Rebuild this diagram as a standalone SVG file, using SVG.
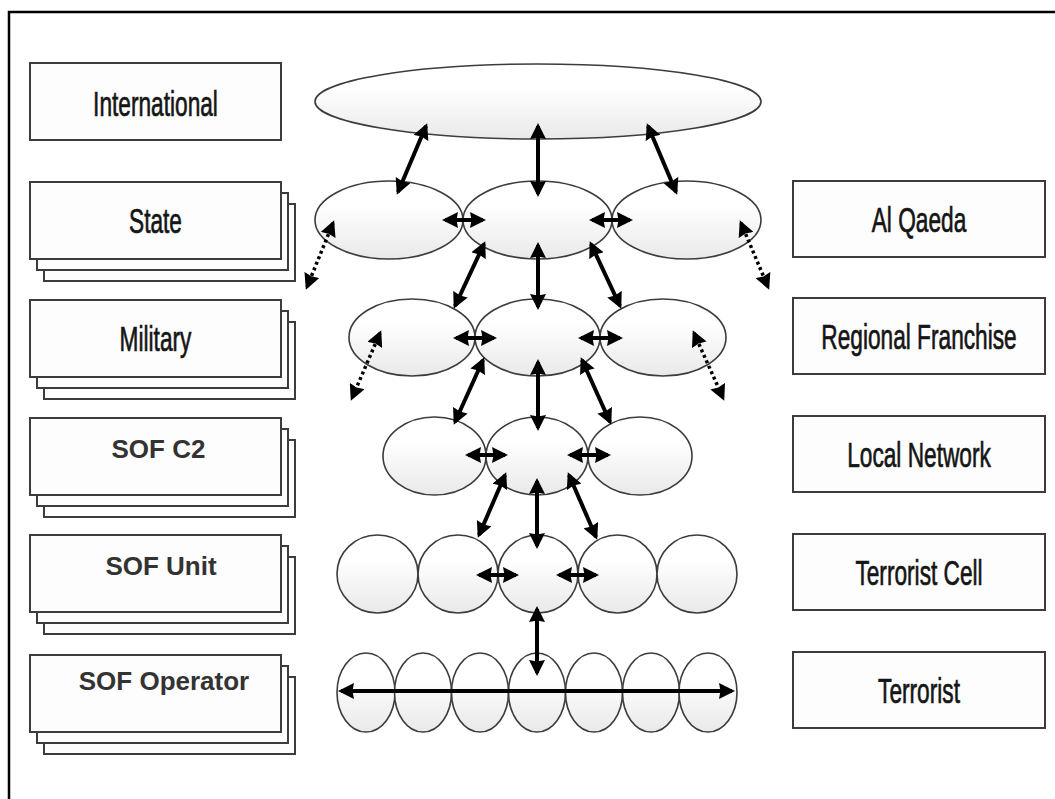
<svg xmlns="http://www.w3.org/2000/svg" width="1055" height="799" viewBox="0 0 1055 799">
  <defs>
    <linearGradient id="eg" x1="0" y1="0" x2="0" y2="1">
      <stop offset="0.3" stop-color="#ffffff"/>
      <stop offset="1" stop-color="#e9e9e9"/>
    </linearGradient>
    <marker id="ah" viewBox="0 0 16 16" markerWidth="16" markerHeight="16" refX="13" refY="8" orient="auto-start-reverse" markerUnits="userSpaceOnUse">
      <path d="M0,0 L16,8 L0,16 L1.5,8 z" fill="#000"/>
    </marker>
    <style>
      .box{fill:#fdfdfd;stroke:#3c3c3c;stroke-width:2}
      .ell{fill:url(#eg);stroke:#3c3c3c;stroke-width:1.6}
      .lbl{font-family:"Liberation Sans",Arial,sans-serif;font-size:36px;fill:#151515;stroke:#151515;stroke-width:0.7;text-anchor:middle}
      .sof{font-family:"Liberation Sans",Arial,sans-serif;font-size:26px;font-weight:bold;fill:#333;text-anchor:middle}
      .ar{stroke:#000;stroke-width:4;fill:none;marker-start:url(#ah);marker-end:url(#ah)}
      .dot{stroke:#000;stroke-width:3.5;fill:none;stroke-dasharray:3 3;marker-start:url(#ah);marker-end:url(#ah)}
    </style>
  </defs>
  <rect x="0" y="0" width="1055" height="799" fill="#fff"/>
  <rect x="9" y="12" width="1200" height="900" fill="none" stroke="#000" stroke-width="2.5"/>

  <!-- left labels -->
  <g id="international">
    <rect class="box" x="30" y="63" width="251" height="77"/>
    <text class="lbl" transform="translate(155.5,116) scale(0.63,1)">International</text>
  </g>
  <g id="state">
    <rect class="box" x="44" y="204" width="251" height="77"/>
    <rect class="box" x="37" y="193" width="251" height="77"/>
    <rect class="box" x="30" y="182" width="251" height="77"/>
    <text class="lbl" transform="translate(155.5,233) scale(0.63,1)">State</text>
  </g>
  <g id="military">
    <rect class="box" x="44" y="322" width="251" height="77"/>
    <rect class="box" x="37" y="311" width="251" height="77"/>
    <rect class="box" x="30" y="300" width="251" height="77"/>
    <text class="lbl" transform="translate(155.5,351) scale(0.63,1)">Military</text>
  </g>
  <g id="sof-c2">
    <rect class="box" x="44" y="440" width="251" height="77"/>
    <rect class="box" x="37" y="429" width="251" height="77"/>
    <rect class="box" x="30" y="418" width="251" height="77"/>
    <text class="sof" x="158.5" y="458">SOF C2</text>
  </g>
  <g id="sof-unit">
    <rect class="box" x="44" y="557" width="251" height="77"/>
    <rect class="box" x="37" y="546" width="251" height="77"/>
    <rect class="box" x="30" y="535" width="251" height="77"/>
    <text class="sof" x="161" y="575">SOF Unit</text>
  </g>
  <g id="sof-operator">
    <rect class="box" x="44" y="677" width="251" height="77"/>
    <rect class="box" x="37" y="666" width="251" height="77"/>
    <rect class="box" x="30" y="655" width="251" height="77"/>
    <text class="sof" x="164" y="690">SOF Operator</text>
  </g>

  <!-- right labels -->
  <g id="al-qaeda">
    <rect class="box" x="793" y="181" width="252" height="76"/>
    <text class="lbl" transform="translate(919,232) scale(0.63,1)">Al Qaeda</text>
  </g>
  <g id="regional-franchise">
    <rect class="box" x="793" y="298" width="252" height="76"/>
    <text class="lbl" transform="translate(919,349) scale(0.63,1)">Regional Franchise</text>
  </g>
  <g id="local-network">
    <rect class="box" x="793" y="416" width="252" height="76"/>
    <text class="lbl" transform="translate(919,467) scale(0.63,1)">Local Network</text>
  </g>
  <g id="terrorist-cell">
    <rect class="box" x="793" y="534" width="252" height="76"/>
    <text class="lbl" transform="translate(919,585) scale(0.63,1)">Terrorist Cell</text>
  </g>
  <g id="terrorist">
    <rect class="box" x="793" y="652" width="252" height="76"/>
    <text class="lbl" transform="translate(919,703) scale(0.63,1)">Terrorist</text>
  </g>

  <!-- network ellipses -->
  <g id="level-international">
    <ellipse class="ell" cx="538" cy="101.5" rx="223" ry="37.5"/>
  </g>
  <g id="level-state">
    <ellipse class="ell" cx="389" cy="220" rx="74" ry="39"/>
    <ellipse class="ell" cx="537.5" cy="220" rx="74.5" ry="39"/>
    <ellipse class="ell" cx="686.5" cy="220" rx="74.5" ry="39"/>
  </g>
  <g id="level-military">
    <ellipse class="ell" cx="412" cy="337.5" rx="63" ry="38.5"/>
    <ellipse class="ell" cx="537.5" cy="337.5" rx="62.5" ry="38.5"/>
    <ellipse class="ell" cx="663" cy="337.5" rx="63" ry="38.5"/>
  </g>
  <g id="level-c2">
    <ellipse class="ell" cx="434.5" cy="456" rx="51.5" ry="39"/>
    <ellipse class="ell" cx="537" cy="456" rx="51" ry="39"/>
    <ellipse class="ell" cx="640" cy="456" rx="52" ry="39"/>
  </g>
  <g id="level-unit">
    <ellipse class="ell" cx="377.5" cy="574" rx="40.5" ry="39"/>
    <ellipse class="ell" cx="458" cy="574" rx="40" ry="39"/>
    <ellipse class="ell" cx="538" cy="574" rx="40" ry="39"/>
    <ellipse class="ell" cx="617.5" cy="574" rx="39.5" ry="39"/>
    <ellipse class="ell" cx="697" cy="574" rx="40" ry="39"/>
  </g>
  <g id="level-operator">
    <ellipse class="ell" cx="366" cy="692.5" rx="29" ry="39.5"/>
    <ellipse class="ell" cx="423" cy="692.5" rx="28.5" ry="39.5"/>
    <ellipse class="ell" cx="480" cy="692.5" rx="28.5" ry="39.5"/>
    <ellipse class="ell" cx="537" cy="692.5" rx="28.5" ry="39.5"/>
    <ellipse class="ell" cx="594" cy="692.5" rx="28.5" ry="39.5"/>
    <ellipse class="ell" cx="651" cy="692.5" rx="28.5" ry="39.5"/>
    <ellipse class="ell" cx="708" cy="692.5" rx="29" ry="39.5"/>
  </g>

  <!-- connectors -->
  <g id="connectors">
    <line class="ar" x1="426" y1="126" x2="398" y2="192"/>
    <line class="ar" x1="538" y1="126" x2="538" y2="194"/>
    <line class="ar" x1="648" y1="126" x2="676" y2="192"/>
    <line class="ar" x1="445" y1="220" x2="483" y2="220"/>
    <line class="ar" x1="592" y1="220" x2="630" y2="220"/>
    <line class="dot" x1="333" y1="223" x2="307" y2="287"/>
    <line class="dot" x1="741" y1="223" x2="768" y2="287"/>

    <line class="ar" x1="484" y1="244" x2="455" y2="306"/>
    <line class="ar" x1="538" y1="245" x2="538" y2="307"/>
    <line class="ar" x1="591" y1="244" x2="620" y2="306"/>
    <line class="ar" x1="456" y1="338" x2="494" y2="338"/>
    <line class="ar" x1="581" y1="338" x2="620" y2="338"/>
    <line class="dot" x1="380" y1="333" x2="352" y2="398"/>
    <line class="dot" x1="694" y1="333" x2="723" y2="398"/>

    <line class="ar" x1="483" y1="360" x2="455" y2="422"/>
    <line class="ar" x1="538" y1="362" x2="538" y2="428"/>
    <line class="ar" x1="582" y1="360" x2="610" y2="422"/>
    <line class="ar" x1="468" y1="455" x2="505" y2="455"/>
    <line class="ar" x1="570" y1="455" x2="608" y2="455"/>

    <line class="ar" x1="505" y1="475" x2="479" y2="535"/>
    <line class="ar" x1="537" y1="481" x2="537" y2="546"/>
    <line class="ar" x1="569" y1="475" x2="596" y2="537"/>
    <line class="ar" x1="479" y1="575" x2="516" y2="575"/>
    <line class="ar" x1="559" y1="575" x2="596" y2="575"/>

    <line class="ar" x1="537" y1="609" x2="537" y2="673"/>
    <line class="ar" x1="341" y1="691" x2="732" y2="691"/>
  </g>
</svg>
